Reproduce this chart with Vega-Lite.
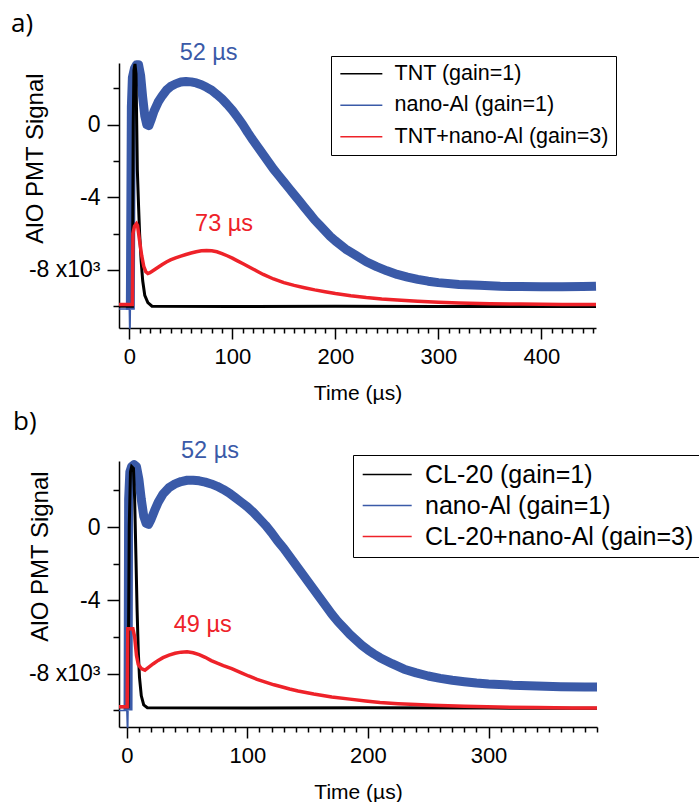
{
  "$schema": "https://vega.github.io/schema/vega-lite/v6.json",
  "padding": {"left": 11, "top": 11, "right": 0, "bottom": 0},
  "spacing": 5,
  "resolve": {"scale": {"color": "independent"}, "legend": {"color": "independent"}},
  "config": {
    "font": "Liberation Sans",
    "view": {"stroke": null},
    "axis": {"domainColor": "black", "domainWidth": 1.5, "tickColor": "black", "tickWidth": 1.5, "labelColor": "black", "titleColor": "black", "labelFontSize": 22, "titleFontSize": 21, "titleFontWeight": "normal", "grid": false, "labelFont": "Liberation Sans", "titleFont": "Liberation Sans"},
    "legend": {"title": null, "symbolType": "M-1,0H4", "symbolStrokeWidth": 1.5, "labelFont": "Liberation Sans", "labelColor": "black", "padding": 7, "strokeColor": "black", "fillColor": "white", "labelLimit": 600},
    "title": {"fontSize": 26, "fontWeight": "normal", "font": "Open Sans", "color": "black", "anchor": "start", "frame": "group"}
  },
  "datasets": {
    "a": [
      {"s": "nano-Al (gain=1)", "t": -10, "v": -10.15}, {"s": "nano-Al (gain=1)", "t": 0, "v": -10.15}, {"s": "nano-Al (gain=1)", "t": 0.3, "v": -11.2}, {"s": "nano-Al (gain=1)", "t": 0.8, "v": -11.2}, {"s": "nano-Al (gain=1)", "t": 1, "v": -10.2},
      {"s": "nano-Al (gain=1)", "t": 2, "v": 1.0}, {"s": "nano-Al (gain=1)", "t": 3, "v": 2.6}, {"s": "nano-Al (gain=1)", "t": 5, "v": 3.1}, {"s": "nano-Al (gain=1)", "t": 7, "v": 3.3}, {"s": "nano-Al (gain=1)", "t": 9, "v": 3.3}, {"s": "nano-Al (gain=1)", "t": 11, "v": 2.7}, {"s": "nano-Al (gain=1)", "t": 13, "v": 1.5}, {"s": "nano-Al (gain=1)", "t": 15, "v": 0.5}, {"s": "nano-Al (gain=1)", "t": 17, "v": 0.0}, {"s": "nano-Al (gain=1)", "t": 19, "v": -0.05}, {"s": "nano-Al (gain=1)", "t": 21, "v": 0.25}, {"s": "nano-Al (gain=1)", "t": 24, "v": 0.75}, {"s": "nano-Al (gain=1)", "t": 28, "v": 1.25}, {"s": "nano-Al (gain=1)", "t": 32, "v": 1.6}, {"s": "nano-Al (gain=1)", "t": 36, "v": 1.9}, {"s": "nano-Al (gain=1)", "t": 40, "v": 2.1}, {"s": "nano-Al (gain=1)", "t": 45, "v": 2.25}, {"s": "nano-Al (gain=1)", "t": 50, "v": 2.35}, {"s": "nano-Al (gain=1)", "t": 55, "v": 2.38}, {"s": "nano-Al (gain=1)", "t": 60, "v": 2.36}, {"s": "nano-Al (gain=1)", "t": 65, "v": 2.3}, {"s": "nano-Al (gain=1)", "t": 70, "v": 2.2}, {"s": "nano-Al (gain=1)", "t": 75, "v": 2.06}, {"s": "nano-Al (gain=1)", "t": 80, "v": 1.9}, {"s": "nano-Al (gain=1)", "t": 85, "v": 1.67}, {"s": "nano-Al (gain=1)", "t": 90, "v": 1.42}, {"s": "nano-Al (gain=1)", "t": 95, "v": 1.12}, {"s": "nano-Al (gain=1)", "t": 100, "v": 0.8}, {"s": "nano-Al (gain=1)", "t": 105, "v": 0.42}, {"s": "nano-Al (gain=1)", "t": 110, "v": 0.02}, {"s": "nano-Al (gain=1)", "t": 115, "v": -0.43}, {"s": "nano-Al (gain=1)", "t": 120, "v": -0.85}, {"s": "nano-Al (gain=1)", "t": 125, "v": -1.25}, {"s": "nano-Al (gain=1)", "t": 130, "v": -1.65}, {"s": "nano-Al (gain=1)", "t": 135, "v": -2.05}, {"s": "nano-Al (gain=1)", "t": 140, "v": -2.45}, {"s": "nano-Al (gain=1)", "t": 145, "v": -2.8}, {"s": "nano-Al (gain=1)", "t": 150, "v": -3.15}, {"s": "nano-Al (gain=1)", "t": 155, "v": -3.5}, {"s": "nano-Al (gain=1)", "t": 160, "v": -3.85}, {"s": "nano-Al (gain=1)", "t": 165, "v": -4.2}, {"s": "nano-Al (gain=1)", "t": 170, "v": -4.55}, {"s": "nano-Al (gain=1)", "t": 175, "v": -4.9}, {"s": "nano-Al (gain=1)", "t": 180, "v": -5.25}, {"s": "nano-Al (gain=1)", "t": 185, "v": -5.55}, {"s": "nano-Al (gain=1)", "t": 190, "v": -5.85}, {"s": "nano-Al (gain=1)", "t": 195, "v": -6.15}, {"s": "nano-Al (gain=1)", "t": 200, "v": -6.4}, {"s": "nano-Al (gain=1)", "t": 210, "v": -6.85}, {"s": "nano-Al (gain=1)", "t": 220, "v": -7.2}, {"s": "nano-Al (gain=1)", "t": 230, "v": -7.55}, {"s": "nano-Al (gain=1)", "t": 240, "v": -7.82}, {"s": "nano-Al (gain=1)", "t": 250, "v": -8.05}, {"s": "nano-Al (gain=1)", "t": 260, "v": -8.25}, {"s": "nano-Al (gain=1)", "t": 270, "v": -8.4}, {"s": "nano-Al (gain=1)", "t": 280, "v": -8.52}, {"s": "nano-Al (gain=1)", "t": 290, "v": -8.62}, {"s": "nano-Al (gain=1)", "t": 300, "v": -8.7}, {"s": "nano-Al (gain=1)", "t": 320, "v": -8.8}, {"s": "nano-Al (gain=1)", "t": 340, "v": -8.85}, {"s": "nano-Al (gain=1)", "t": 360, "v": -8.9}, {"s": "nano-Al (gain=1)", "t": 380, "v": -8.92}, {"s": "nano-Al (gain=1)", "t": 400, "v": -8.93}, {"s": "nano-Al (gain=1)", "t": 420, "v": -8.93}, {"s": "nano-Al (gain=1)", "t": 440, "v": -8.92}, {"s": "nano-Al (gain=1)", "t": 453, "v": -8.9},
      {"s": "TNT+nano-Al (gain=3)", "t": -10, "v": -9.9}, {"s": "TNT+nano-Al (gain=3)", "t": 3, "v": -9.9}, {"s": "TNT+nano-Al (gain=3)", "t": 3.5, "v": -6.0}, {"s": "TNT+nano-Al (gain=3)", "t": 5, "v": -5.6}, {"s": "TNT+nano-Al (gain=3)", "t": 7, "v": -5.45}, {"s": "TNT+nano-Al (gain=3)", "t": 8, "v": -5.55}, {"s": "TNT+nano-Al (gain=3)", "t": 10, "v": -6.4}, {"s": "TNT+nano-Al (gain=3)", "t": 12, "v": -7.2}, {"s": "TNT+nano-Al (gain=3)", "t": 14, "v": -7.8}, {"s": "TNT+nano-Al (gain=3)", "t": 16, "v": -8.1}, {"s": "TNT+nano-Al (gain=3)", "t": 18, "v": -8.2}, {"s": "TNT+nano-Al (gain=3)", "t": 20, "v": -8.15}, {"s": "TNT+nano-Al (gain=3)", "t": 24, "v": -8.0}, {"s": "TNT+nano-Al (gain=3)", "t": 28, "v": -7.85}, {"s": "TNT+nano-Al (gain=3)", "t": 32, "v": -7.7}, {"s": "TNT+nano-Al (gain=3)", "t": 36, "v": -7.56}, {"s": "TNT+nano-Al (gain=3)", "t": 40, "v": -7.45}, {"s": "TNT+nano-Al (gain=3)", "t": 45, "v": -7.34}, {"s": "TNT+nano-Al (gain=3)", "t": 50, "v": -7.24}, {"s": "TNT+nano-Al (gain=3)", "t": 55, "v": -7.15}, {"s": "TNT+nano-Al (gain=3)", "t": 60, "v": -7.07}, {"s": "TNT+nano-Al (gain=3)", "t": 65, "v": -7.0}, {"s": "TNT+nano-Al (gain=3)", "t": 70, "v": -6.95}, {"s": "TNT+nano-Al (gain=3)", "t": 75, "v": -6.93}, {"s": "TNT+nano-Al (gain=3)", "t": 80, "v": -6.95}, {"s": "TNT+nano-Al (gain=3)", "t": 85, "v": -7.0}, {"s": "TNT+nano-Al (gain=3)", "t": 90, "v": -7.1}, {"s": "TNT+nano-Al (gain=3)", "t": 95, "v": -7.22}, {"s": "TNT+nano-Al (gain=3)", "t": 100, "v": -7.35}, {"s": "TNT+nano-Al (gain=3)", "t": 105, "v": -7.5}, {"s": "TNT+nano-Al (gain=3)", "t": 110, "v": -7.65}, {"s": "TNT+nano-Al (gain=3)", "t": 115, "v": -7.8}, {"s": "TNT+nano-Al (gain=3)", "t": 120, "v": -7.95}, {"s": "TNT+nano-Al (gain=3)", "t": 125, "v": -8.1}, {"s": "TNT+nano-Al (gain=3)", "t": 130, "v": -8.25}, {"s": "TNT+nano-Al (gain=3)", "t": 140, "v": -8.5}, {"s": "TNT+nano-Al (gain=3)", "t": 150, "v": -8.7}, {"s": "TNT+nano-Al (gain=3)", "t": 160, "v": -8.85}, {"s": "TNT+nano-Al (gain=3)", "t": 170, "v": -8.98}, {"s": "TNT+nano-Al (gain=3)", "t": 180, "v": -9.1}, {"s": "TNT+nano-Al (gain=3)", "t": 190, "v": -9.2}, {"s": "TNT+nano-Al (gain=3)", "t": 200, "v": -9.3}, {"s": "TNT+nano-Al (gain=3)", "t": 215, "v": -9.42}, {"s": "TNT+nano-Al (gain=3)", "t": 230, "v": -9.52}, {"s": "TNT+nano-Al (gain=3)", "t": 245, "v": -9.6}, {"s": "TNT+nano-Al (gain=3)", "t": 260, "v": -9.66}, {"s": "TNT+nano-Al (gain=3)", "t": 280, "v": -9.73}, {"s": "TNT+nano-Al (gain=3)", "t": 300, "v": -9.78}, {"s": "TNT+nano-Al (gain=3)", "t": 320, "v": -9.82}, {"s": "TNT+nano-Al (gain=3)", "t": 350, "v": -9.86}, {"s": "TNT+nano-Al (gain=3)", "t": 380, "v": -9.88}, {"s": "TNT+nano-Al (gain=3)", "t": 420, "v": -9.9}, {"s": "TNT+nano-Al (gain=3)", "t": 453, "v": -9.9},
      {"s": "TNT (gain=1)", "t": -10, "v": -10.0}, {"s": "TNT (gain=1)", "t": 3, "v": -10.0}, {"s": "TNT (gain=1)", "t": 3.8, "v": 0.0}, {"s": "TNT (gain=1)", "t": 4.5, "v": 3.0}, {"s": "TNT (gain=1)", "t": 5.5, "v": 3.35}, {"s": "TNT (gain=1)", "t": 6.5, "v": 2.8}, {"s": "TNT (gain=1)", "t": 7.2, "v": 0.0}, {"s": "TNT (gain=1)", "t": 7.8, "v": -2.5}, {"s": "TNT (gain=1)", "t": 9, "v": -4.5}, {"s": "TNT (gain=1)", "t": 10, "v": -6.0}, {"s": "TNT (gain=1)", "t": 11.5, "v": -7.5}, {"s": "TNT (gain=1)", "t": 13, "v": -8.6}, {"s": "TNT (gain=1)", "t": 15, "v": -9.4}, {"s": "TNT (gain=1)", "t": 18, "v": -9.8}, {"s": "TNT (gain=1)", "t": 22, "v": -10.0}, {"s": "TNT (gain=1)", "t": 100, "v": -10.02}, {"s": "TNT (gain=1)", "t": 200, "v": -10.0}, {"s": "TNT (gain=1)", "t": 300, "v": -10.02}, {"s": "TNT (gain=1)", "t": 453, "v": -10.02}
    ],
    "b": [
      {"s": "nano-Al (gain=1)", "t": -6.5, "v": -10.0}, {"s": "nano-Al (gain=1)", "t": 0, "v": -10.0}, {"s": "nano-Al (gain=1)", "t": 0.4, "v": -10.9}, {"s": "nano-Al (gain=1)", "t": 0.8, "v": -10.9}, {"s": "nano-Al (gain=1)", "t": 1, "v": -10.0},
      {"s": "nano-Al (gain=1)", "t": 1.5, "v": 1.5}, {"s": "nano-Al (gain=1)", "t": 2.5, "v": 3.0}, {"s": "nano-Al (gain=1)", "t": 4, "v": 3.3}, {"s": "nano-Al (gain=1)", "t": 6, "v": 3.4}, {"s": "nano-Al (gain=1)", "t": 8, "v": 3.3}, {"s": "nano-Al (gain=1)", "t": 10, "v": 2.6}, {"s": "nano-Al (gain=1)", "t": 12, "v": 1.5}, {"s": "nano-Al (gain=1)", "t": 14, "v": 0.6}, {"s": "nano-Al (gain=1)", "t": 16, "v": 0.2}, {"s": "nano-Al (gain=1)", "t": 18, "v": 0.15}, {"s": "nano-Al (gain=1)", "t": 20, "v": 0.4}, {"s": "nano-Al (gain=1)", "t": 23, "v": 0.9}, {"s": "nano-Al (gain=1)", "t": 26, "v": 1.35}, {"s": "nano-Al (gain=1)", "t": 30, "v": 1.8}, {"s": "nano-Al (gain=1)", "t": 35, "v": 2.15}, {"s": "nano-Al (gain=1)", "t": 40, "v": 2.35}, {"s": "nano-Al (gain=1)", "t": 45, "v": 2.48}, {"s": "nano-Al (gain=1)", "t": 50, "v": 2.55}, {"s": "nano-Al (gain=1)", "t": 55, "v": 2.55}, {"s": "nano-Al (gain=1)", "t": 60, "v": 2.52}, {"s": "nano-Al (gain=1)", "t": 65, "v": 2.45}, {"s": "nano-Al (gain=1)", "t": 70, "v": 2.35}, {"s": "nano-Al (gain=1)", "t": 75, "v": 2.22}, {"s": "nano-Al (gain=1)", "t": 80, "v": 2.05}, {"s": "nano-Al (gain=1)", "t": 85, "v": 1.85}, {"s": "nano-Al (gain=1)", "t": 90, "v": 1.6}, {"s": "nano-Al (gain=1)", "t": 95, "v": 1.35}, {"s": "nano-Al (gain=1)", "t": 100, "v": 1.1}, {"s": "nano-Al (gain=1)", "t": 105, "v": 0.8}, {"s": "nano-Al (gain=1)", "t": 110, "v": 0.45}, {"s": "nano-Al (gain=1)", "t": 115, "v": 0.1}, {"s": "nano-Al (gain=1)", "t": 120, "v": -0.3}, {"s": "nano-Al (gain=1)", "t": 125, "v": -0.75}, {"s": "nano-Al (gain=1)", "t": 130, "v": -1.15}, {"s": "nano-Al (gain=1)", "t": 135, "v": -1.6}, {"s": "nano-Al (gain=1)", "t": 140, "v": -2.05}, {"s": "nano-Al (gain=1)", "t": 145, "v": -2.5}, {"s": "nano-Al (gain=1)", "t": 150, "v": -2.95}, {"s": "nano-Al (gain=1)", "t": 155, "v": -3.4}, {"s": "nano-Al (gain=1)", "t": 160, "v": -3.85}, {"s": "nano-Al (gain=1)", "t": 165, "v": -4.3}, {"s": "nano-Al (gain=1)", "t": 170, "v": -4.75}, {"s": "nano-Al (gain=1)", "t": 175, "v": -5.15}, {"s": "nano-Al (gain=1)", "t": 180, "v": -5.5}, {"s": "nano-Al (gain=1)", "t": 185, "v": -5.85}, {"s": "nano-Al (gain=1)", "t": 190, "v": -6.15}, {"s": "nano-Al (gain=1)", "t": 195, "v": -6.45}, {"s": "nano-Al (gain=1)", "t": 200, "v": -6.7}, {"s": "nano-Al (gain=1)", "t": 205, "v": -6.92}, {"s": "nano-Al (gain=1)", "t": 210, "v": -7.12}, {"s": "nano-Al (gain=1)", "t": 220, "v": -7.45}, {"s": "nano-Al (gain=1)", "t": 230, "v": -7.75}, {"s": "nano-Al (gain=1)", "t": 240, "v": -7.95}, {"s": "nano-Al (gain=1)", "t": 250, "v": -8.12}, {"s": "nano-Al (gain=1)", "t": 260, "v": -8.25}, {"s": "nano-Al (gain=1)", "t": 270, "v": -8.35}, {"s": "nano-Al (gain=1)", "t": 280, "v": -8.43}, {"s": "nano-Al (gain=1)", "t": 290, "v": -8.5}, {"s": "nano-Al (gain=1)", "t": 300, "v": -8.55}, {"s": "nano-Al (gain=1)", "t": 320, "v": -8.62}, {"s": "nano-Al (gain=1)", "t": 340, "v": -8.66}, {"s": "nano-Al (gain=1)", "t": 360, "v": -8.7}, {"s": "nano-Al (gain=1)", "t": 380, "v": -8.72}, {"s": "nano-Al (gain=1)", "t": 390, "v": -8.72},
      {"s": "CL-20+nano-Al (gain=3)", "t": -6.5, "v": -9.8}, {"s": "CL-20+nano-Al (gain=3)", "t": 0.3, "v": -9.8}, {"s": "CL-20+nano-Al (gain=3)", "t": 0.8, "v": -5.54}, {"s": "CL-20+nano-Al (gain=3)", "t": 5, "v": -5.54}, {"s": "CL-20+nano-Al (gain=3)", "t": 6.5, "v": -6.0}, {"s": "CL-20+nano-Al (gain=3)", "t": 8, "v": -7.0}, {"s": "CL-20+nano-Al (gain=3)", "t": 9.5, "v": -7.5}, {"s": "CL-20+nano-Al (gain=3)", "t": 12, "v": -7.72}, {"s": "CL-20+nano-Al (gain=3)", "t": 15, "v": -7.8}, {"s": "CL-20+nano-Al (gain=3)", "t": 18, "v": -7.65}, {"s": "CL-20+nano-Al (gain=3)", "t": 22, "v": -7.45}, {"s": "CL-20+nano-Al (gain=3)", "t": 26, "v": -7.27}, {"s": "CL-20+nano-Al (gain=3)", "t": 30, "v": -7.12}, {"s": "CL-20+nano-Al (gain=3)", "t": 35, "v": -6.98}, {"s": "CL-20+nano-Al (gain=3)", "t": 40, "v": -6.88}, {"s": "CL-20+nano-Al (gain=3)", "t": 45, "v": -6.82}, {"s": "CL-20+nano-Al (gain=3)", "t": 50, "v": -6.8}, {"s": "CL-20+nano-Al (gain=3)", "t": 55, "v": -6.85}, {"s": "CL-20+nano-Al (gain=3)", "t": 60, "v": -6.95}, {"s": "CL-20+nano-Al (gain=3)", "t": 65, "v": -7.1}, {"s": "CL-20+nano-Al (gain=3)", "t": 70, "v": -7.28}, {"s": "CL-20+nano-Al (gain=3)", "t": 75, "v": -7.42}, {"s": "CL-20+nano-Al (gain=3)", "t": 80, "v": -7.55}, {"s": "CL-20+nano-Al (gain=3)", "t": 87, "v": -7.72}, {"s": "CL-20+nano-Al (gain=3)", "t": 95, "v": -7.95}, {"s": "CL-20+nano-Al (gain=3)", "t": 101, "v": -8.12}, {"s": "CL-20+nano-Al (gain=3)", "t": 108, "v": -8.3}, {"s": "CL-20+nano-Al (gain=3)", "t": 115, "v": -8.45}, {"s": "CL-20+nano-Al (gain=3)", "t": 122, "v": -8.6}, {"s": "CL-20+nano-Al (gain=3)", "t": 129, "v": -8.72}, {"s": "CL-20+nano-Al (gain=3)", "t": 135, "v": -8.83}, {"s": "CL-20+nano-Al (gain=3)", "t": 142, "v": -8.94}, {"s": "CL-20+nano-Al (gain=3)", "t": 155, "v": -9.1}, {"s": "CL-20+nano-Al (gain=3)", "t": 170, "v": -9.26}, {"s": "CL-20+nano-Al (gain=3)", "t": 185, "v": -9.38}, {"s": "CL-20+nano-Al (gain=3)", "t": 198, "v": -9.48}, {"s": "CL-20+nano-Al (gain=3)", "t": 210, "v": -9.56}, {"s": "CL-20+nano-Al (gain=3)", "t": 225, "v": -9.63}, {"s": "CL-20+nano-Al (gain=3)", "t": 240, "v": -9.68}, {"s": "CL-20+nano-Al (gain=3)", "t": 253, "v": -9.72}, {"s": "CL-20+nano-Al (gain=3)", "t": 280, "v": -9.77}, {"s": "CL-20+nano-Al (gain=3)", "t": 308, "v": -9.81}, {"s": "CL-20+nano-Al (gain=3)", "t": 340, "v": -9.84}, {"s": "CL-20+nano-Al (gain=3)", "t": 370, "v": -9.86}, {"s": "CL-20+nano-Al (gain=3)", "t": 390, "v": -9.87},
      {"s": "CL-20 (gain=1)", "t": -6.5, "v": -9.8}, {"s": "CL-20 (gain=1)", "t": 1, "v": -9.8}, {"s": "CL-20 (gain=1)", "t": 2, "v": 0.0}, {"s": "CL-20 (gain=1)", "t": 3, "v": 3.0}, {"s": "CL-20 (gain=1)", "t": 4, "v": 3.3}, {"s": "CL-20 (gain=1)", "t": 5.5, "v": 3.2}, {"s": "CL-20 (gain=1)", "t": 6.5, "v": 1.5}, {"s": "CL-20 (gain=1)", "t": 7.5, "v": -1.5}, {"s": "CL-20 (gain=1)", "t": 8.5, "v": -4.5}, {"s": "CL-20 (gain=1)", "t": 9.5, "v": -6.8}, {"s": "CL-20 (gain=1)", "t": 10.5, "v": -8.2}, {"s": "CL-20 (gain=1)", "t": 12, "v": -9.2}, {"s": "CL-20 (gain=1)", "t": 14, "v": -9.7}, {"s": "CL-20 (gain=1)", "t": 17, "v": -9.85}, {"s": "CL-20 (gain=1)", "t": 100, "v": -9.87}, {"s": "CL-20 (gain=1)", "t": 200, "v": -9.85}, {"s": "CL-20 (gain=1)", "t": 300, "v": -9.87}, {"s": "CL-20 (gain=1)", "t": 390, "v": -9.88}
    ],
    "labA": [
      {"s": "nano-Al (gain=1)", "t": 77, "v": 3.95, "label": "52 µs"},
      {"s": "TNT+nano-Al (gain=3)", "t": 92, "v": -5.45, "label": "73 µs"}
    ],
    "labB": [
      {"s": "nano-Al (gain=1)", "t": 69, "v": 4.15, "label": "52 µs"},
      {"s": "CL-20+nano-Al (gain=3)", "t": 63, "v": -5.36, "label": "49 µs"}
    ]
  },
  "vconcat": [
    {
      "width": 477,
      "height": 265,
      "title": {"text": "a)", "dx": -108},
      "encoding": {
        "x": {"field": "t", "type": "quantitative", "scale": {"domain": [-10, 453], "nice": false, "zero": false},
          "axis": {"values": [0,10,20,30,40,50,60,70,80,90,100,110,120,130,140,150,160,170,180,190,200,210,220,230,240,250,260,270,280,290,300,310,320,330,340,350,360,370,380,390,400,410,420,430,440,450],
            "labelExpr": "datum.value % 100 === 0 ? '' + datum.value : ''", "labelOverlap": false, "labelFlush": false,
            "tickSize": {"condition": {"test": "datum.value % 100 === 0", "value": 11}, "value": 5},
            "labelPadding": 7, "title": "Time (µs)", "titleY": 71, "titleBaseline": "alphabetic"}},
        "y": {"field": "v", "type": "quantitative", "scale": {"domain": [-11.2, 3.4], "nice": false, "zero": false},
          "axis": {"values": [2, 0, -2, -4, -6, -8, -10],
            "labelExpr": "datum.value === -8 ? '-8 x10³' : (datum.value % 4 === 0 ? '' + datum.value : '')", "labelOverlap": false, "labelFlush": false, "labelFontSize": 23,
            "tickSize": {"condition": {"test": "datum.value % 4 === 0", "value": 12}, "value": 6},
            "labelPadding": 7, "title": "AlO PMT Signal", "titleFontSize": 24, "titleX": -77, "titleY": 95, "titleAngle": 270, "titleBaseline": "alphabetic", "titleAlign": "center"}},
        "color": {"field": "s", "type": "nominal",
          "scale": {"domain": ["TNT (gain=1)", "nano-Al (gain=1)", "TNT+nano-Al (gain=3)"], "range": ["#000000", "#3a5aa8", "#ee2229"]},
          "legend": {"orient": "none", "legendX": 212, "legendY": -7, "symbolSize": 282, "labelOffset": 35, "labelFontSize": 21.5, "rowPadding": 8.5}}
      },
      "layer": [
        {"data": {"name": "a"}, "transform": [{"filter": "datum.s === 'nano-Al (gain=1)' && datum.t <= 1"}], "mark": {"type": "line", "strokeWidth": 1.5}},
        {"data": {"name": "a"}, "transform": [{"filter": "datum.s === 'nano-Al (gain=1)' && datum.t >= 1"}], "mark": {"type": "line", "strokeWidth": 9, "strokeJoin": "round"}},
        {"data": {"name": "a"}, "transform": [{"filter": "datum.s === 'TNT (gain=1)'"}], "mark": {"type": "line", "strokeWidth": 3}},
        {"data": {"name": "a"}, "transform": [{"filter": "datum.s === 'TNT+nano-Al (gain=3)'"}], "mark": {"type": "line", "strokeWidth": 3.5}},
        {"data": {"name": "labA"}, "mark": {"type": "text", "fontSize": 23.5, "align": "center", "baseline": "middle"}, "encoding": {"text": {"field": "label"}}}
      ]
    },
    {
      "width": 478,
      "height": 266,
      "title": {"text": "b)", "dx": -106},
      "encoding": {
        "x": {"field": "t", "type": "quantitative", "scale": {"domain": [-6.5, 390], "nice": false, "zero": false},
          "axis": {"values": [0,10,20,30,40,50,60,70,80,90,100,110,120,130,140,150,160,170,180,190,200,210,220,230,240,250,260,270,280,290,300,310,320,330,340,350,360,370,380,390],
            "labelExpr": "datum.value % 100 === 0 ? '' + datum.value : ''", "labelOverlap": false, "labelFlush": false,
            "tickSize": {"condition": {"test": "datum.value % 100 === 0", "value": 11}, "value": 5},
            "labelPadding": 7, "title": "Time (µs)", "titleY": 71, "titleBaseline": "alphabetic"}},
        "y": {"field": "v", "type": "quantitative", "scale": {"domain": [-10.9, 3.6], "nice": false, "zero": false},
          "axis": {"values": [2, 0, -2, -4, -6, -8, -10],
            "labelExpr": "datum.value === -8 ? '-8 x10³' : (datum.value % 4 === 0 ? '' + datum.value : '')", "labelOverlap": false, "labelFlush": false, "labelFontSize": 23,
            "tickSize": {"condition": {"test": "datum.value % 4 === 0", "value": 12}, "value": 6},
            "labelPadding": 7, "title": "AlO PMT Signal", "titleFontSize": 24, "titleX": -72, "titleY": 95, "titleAngle": 270, "titleBaseline": "alphabetic", "titleAlign": "center"}},
        "color": {"field": "s", "type": "nominal",
          "scale": {"domain": ["CL-20 (gain=1)", "nano-Al (gain=1)", "CL-20+nano-Al (gain=3)"], "range": ["#000000", "#3a5aa8", "#ee2229"]},
          "legend": {"orient": "none", "legendX": 234, "legendY": -6, "symbolSize": 384, "labelOffset": 40, "labelFontSize": 25, "rowPadding": 5}}
      },
      "layer": [
        {"data": {"name": "b"}, "transform": [{"filter": "datum.s === 'nano-Al (gain=1)' && datum.t <= 1"}], "mark": {"type": "line", "strokeWidth": 1.5}},
        {"data": {"name": "b"}, "transform": [{"filter": "datum.s === 'nano-Al (gain=1)' && datum.t >= 1"}], "mark": {"type": "line", "strokeWidth": 9, "strokeJoin": "round"}},
        {"data": {"name": "b"}, "transform": [{"filter": "datum.s === 'CL-20 (gain=1)'"}], "mark": {"type": "line", "strokeWidth": 3}},
        {"data": {"name": "b"}, "transform": [{"filter": "datum.s === 'CL-20+nano-Al (gain=3)'"}], "mark": {"type": "line", "strokeWidth": 3.5}},
        {"data": {"name": "labB"}, "mark": {"type": "text", "fontSize": 23.5, "align": "center", "baseline": "middle"}, "encoding": {"text": {"field": "label"}}}
      ]
    }
  ]
}
